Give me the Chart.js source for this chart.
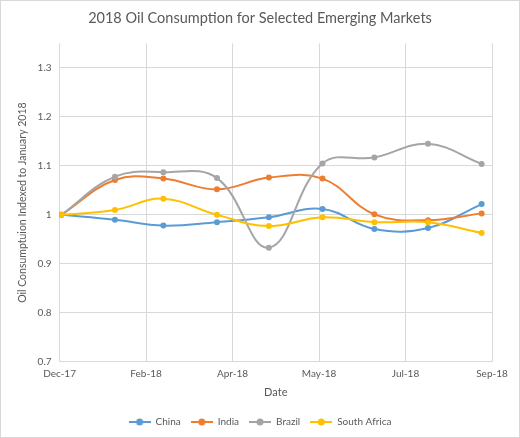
<!DOCTYPE html>
<html>
<head>
<meta charset="utf-8">
<script src="https://cdn.jsdelivr.net/npm/chart.js@4/dist/chart.umd.min.js"></script>
<style>
  body { margin: 0; background: #fff; }
  #wrap { width: 520px; height: 438px; box-sizing: border-box; border: 1px solid #d9d9d9; }
</style>
</head>
<body>
<div id="wrap"><canvas id="lineChart" width="518" height="436"></canvas></div>
<script>
// data
const axisStart = '2017-12-31';
const dates = ['2018-01-01', '2018-02-01', '2018-03-01', '2018-04-01', '2018-05-01',
               '2018-06-01', '2018-07-01', '2018-08-01', '2018-09-01'];
const china = [1.000, 0.990, 0.978, 0.985, 0.995, 1.012, 0.971, 0.973, 1.022];
const india = [1.000, 1.071, 1.074, 1.052, 1.076, 1.074, 1.001, 0.989, 1.003];
const brazil = [1.000, 1.078, 1.087, 1.075, 0.933, 1.105, 1.117, 1.145, 1.104];
const southAfrica = [1.000, 1.010, 1.033, 1.000, 0.977, 0.995, 0.985, 0.985, 0.963];
const xTickLabels = ['Dec-17', 'Feb-18', 'Apr-18', 'May-18', 'Jul-18', 'Sep-18'];

const seriesNames = ['China', 'India', 'Brazil', 'South Africa'];
const seriesColors = ['#5b9bd5', '#ed7d31', '#a5a5a5', '#ffc000'];
const seriesValues = [china, india, brazil, southAfrica];

// days since axis start
function dayOffset(d) {
    return (Date.parse(d) - Date.parse(axisStart)) / 86400000;
}

// little line + dot icon for the legend
function legendIcon(color) {
    const c = document.createElement('canvas');
    c.width = 22; c.height = 8;
    const g = c.getContext('2d');
    g.strokeStyle = color;
    g.lineWidth = 2;
    g.beginPath(); g.moveTo(0, 4); g.lineTo(22, 4); g.stroke();
    g.fillStyle = color;
    g.beginPath(); g.arc(11, 4, 3.5, 0, Math.PI * 2); g.fill();
    return c;
}

const textColor = '#595959';
const gridColor = '#d9d9d9';
const fontFamily = 'Lato, "Open Sans", sans-serif';

const datasets = seriesNames.map((name, i) => ({
    label: name,
    data: seriesValues[i].map((v, j) => ({ x: dayOffset(dates[j]), y: v })),
    borderColor: seriesColors[i],
    backgroundColor: seriesColors[i],
    borderWidth: 2,
    pointRadius: 3,
    pointBorderWidth: 0,
    pointStyle: 'circle',
    icon: legendIcon(seriesColors[i]),
    tension: 0.4,
    order: seriesNames.length - i
}));

// title and legend are centred on the whole canvas, not on the padded box
const centerBlocks = {
    id: 'centerBlocks',
    afterLayout(chart) {
        [chart.titleBlock, chart.legend].forEach(b => {
            if (!b) return;
            b.left = 0;
            b.right = chart.width;
            b.width = chart.width;
        });
    }
};

const config = {
    type: 'line',
    data: { datasets: datasets },
    plugins: [centerBlocks],
    options: {
        responsive: false,
        animation: false,
        layout: { padding: { left: 11, right: 27, top: 0, bottom: 0 } },
        plugins: {
            title: {
                display: true,
                text: '2018 Oil Consumption for Selected Emerging Markets',
                color: textColor,
                font: { family: fontFamily, size: 14.5, weight: 'normal' },
                padding: { top: 9, bottom: 16 }
            },
            legend: {
                position: 'bottom',
                labels: {
                    color: textColor,
                    font: { family: fontFamily, size: 10 },
                    usePointStyle: true,
                    pointStyleWidth: 22,
                    padding: 10,
                    generateLabels: chart => chart.data.datasets.map((ds, i) => ({
                        text: ds.label,
                        pointStyle: ds.icon,
                        fontColor: textColor,
                        strokeStyle: ds.borderColor,
                        fillStyle: ds.borderColor,
                        lineWidth: 0,
                        datasetIndex: i,
                        hidden: false
                    }))
                }
            },
            tooltip: { enabled: false }
        },
        scales: {
            x: {
                type: 'linear',
                min: 0,
                max: 250,
                ticks: {
                    stepSize: 50,
                    color: textColor,
                    font: { family: fontFamily, size: 10 },
                    padding: 6,
                    maxRotation: 0,
                    callback: (value, index) => xTickLabels[index]
                },
                grid: { color: gridColor, drawTicks: false },
                border: { color: gridColor },
                title: {
                    display: true,
                    text: 'Date',
                    color: textColor,
                    font: { family: fontFamily, size: 11 },
                    padding: { top: 0, bottom: 8 }
                }
            },
            y: {
                min: 0.7,
                max: 1.35,
                ticks: {
                    stepSize: 0.1,
                    color: textColor,
                    font: { family: fontFamily, size: 10 },
                    padding: 8,
                    callback: value => String(+value.toFixed(2))
                },
                afterBuildTicks: axis => {
                    axis.ticks = axis.ticks.filter(t => t.value <= 1.3 + 1e-9);
                },
                grid: { color: gridColor, drawTicks: false },
                border: { display: false },
                title: {
                    display: true,
                    text: 'Oil Consumptuion Indexed to January 2018',
                    color: textColor,
                    font: { family: fontFamily, size: 10.5 },
                    padding: { top: 4, bottom: 1 }
                }
            }
        }
    }
};

new Chart(document.getElementById('lineChart'), config);
</script>
</body>
</html>
